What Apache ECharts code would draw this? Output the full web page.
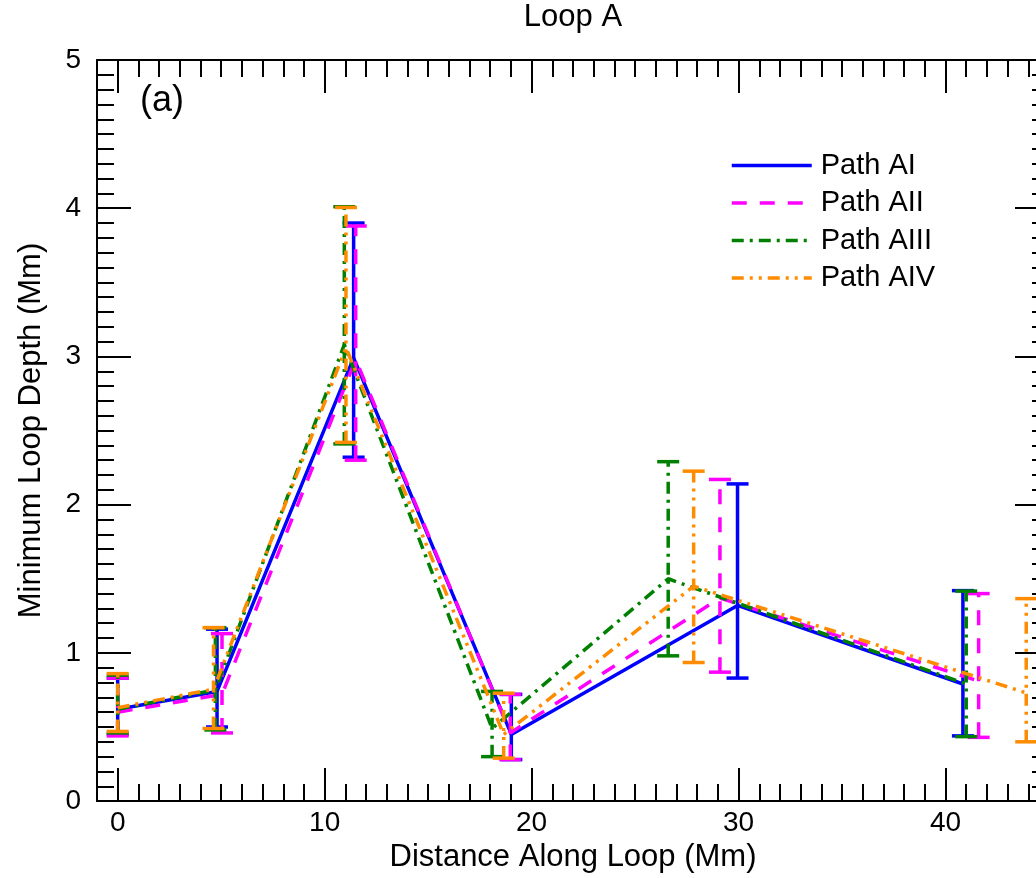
<!DOCTYPE html>
<html>
<head>
<meta charset="utf-8">
<title>Loop A</title>
<script src="https://cdn.jsdelivr.net/npm/echarts@6/dist/echarts.min.js"></script>
<style>
  html, body { margin: 0; padding: 0; overflow: hidden; background: #fff; }
  #chart { width: 1060px; height: 878px; }
</style>
</head>
<body>
<div id="chart"></div>
<script>
// Minimum loop depth along loop A for four traced paths, with error bars.
const seriesNames = ['Path AI', 'Path AII', 'Path AIII', 'Path AIV'];

// Path AI
const aiX  = [0, 4.80, 11.40, 19.02, 29.95, 40.84];
const aiY  = [0.62, 0.74, 2.99, 0.45, 1.32, 0.79];
const aiLo = [0.45, 0.50, 2.32, 0.28, 0.83, 0.44];
const aiHi = [0.83, 1.16, 3.90, 0.72, 2.14, 1.42];

// Path AII
const aiiX  = [0, 5.04, 11.50, 18.97, 29.10, 41.60];
const aiiY  = [0.60, 0.72, 2.98, 0.46, 1.37, 0.81];
const aiiLo = [0.44, 0.46, 2.30, 0.28, 0.87, 0.43];
const aiiHi = [0.83, 1.13, 3.88, 0.72, 2.17, 1.40];

// Path AIII
const aiiiX  = [0, 4.72, 10.95, 18.09, 26.60, 41.00];
const aiiiY  = [0.62, 0.75, 3.08, 0.49, 1.50, 0.79];
const aiiiLo = [0.46, 0.48, 2.41, 0.30, 0.98, 0.435];
const aiiiHi = [0.85, 1.17, 4.01, 0.74, 2.29, 1.417];

// Path AIV
const aivX  = [0, 4.63, 11.03, 18.65, 27.83, 43.90];
const aivY  = [0.63, 0.755, 3.06, 0.45, 1.45, 0.73];
const aivLo = [0.47, 0.49, 2.42, 0.29, 0.935, 0.40];
const aivHi = [0.86, 1.17, 4.005, 0.728, 2.226, 1.366];

// Axis ticks
const xMajorTicks = [0, 10, 20, 30, 40];
const yTickLabels = [0, 1, 2, 3, 4, 5];

const FONT = 'Liberation Sans';
const LW = 3.5;
const styles = [
  { color: '#0000ff', dash: 'solid' },
  { color: '#ff00ff', dash: [15, 13] },
  { color: '#008000', dash: [12, 6, 3, 6] },
  { color: '#ff8c00', dash: [12, 6, 3, 6, 3, 6] }
];

const paths = [
  { x: aiX, y: aiY, lo: aiLo, hi: aiHi },
  { x: aiiX, y: aiiY, lo: aiiLo, hi: aiiHi },
  { x: aiiiX, y: aiiiY, lo: aiiiLo, hi: aiiiHi },
  { x: aivX, y: aivY, lo: aivLo, hi: aivHi }
];

const series = [];
paths.forEach((p, k) => {
  const st = styles[k];
  series.push({
    name: seriesNames[k],
    type: 'line',
    data: p.y.map((v, i) => [p.x[i], v]),
    symbol: 'none',
    showSymbol: false,
    lineStyle: { color: st.color, width: LW, type: st.dash },
    itemStyle: { color: st.color },
    z: 2 + k
  });
  series.push({
    name: seriesNames[k],
    type: 'custom',
    data: p.x.map((v, i) => [v, p.lo[i], p.hi[i]]),
    encode: { x: 0, y: [1, 2] },
    z: 2 + k,
    renderItem: function (params, api) {
      const x = api.value(0);
      const lo = api.coord([x, api.value(1)]);
      const hi = api.coord([x, api.value(2)]);
      const half = 11;
      const dash = Array.isArray(st.dash) ? st.dash : null;
      return {
        type: 'group',
        children: [
          { type: 'line', shape: { x1: lo[0], y1: lo[1], x2: hi[0], y2: hi[1] },
            style: { stroke: st.color, lineWidth: LW, lineDash: dash } },
          { type: 'line', shape: { x1: lo[0] - half, y1: lo[1], x2: lo[0] + half, y2: lo[1] },
            style: { stroke: st.color, lineWidth: LW } },
          { type: 'line', shape: { x1: hi[0] - half, y1: hi[1], x2: hi[0] + half, y2: hi[1] },
            style: { stroke: st.color, lineWidth: LW } }
        ]
      };
    }
  });
});

const axisLineStyle = { color: '#000', width: 2 };
const tickStyle = { color: '#000', width: 2 };

function xAxisPair(pos, withLabels) {
  return [
    { // minor ticks every 1 Mm
      type: 'value', position: pos, min: -1, max: 45, interval: 1,
      axisLine: { show: true, onZero: false, lineStyle: axisLineStyle },
      axisTick: { show: true, inside: true, length: 17, lineStyle: tickStyle },
      axisLabel: { show: false },
      splitLine: { show: false }
    },
    { // major ticks every 10 Mm
      type: 'value', position: pos, min: -1, max: 45,
      name: withLabels ? 'Distance Along Loop (Mm)' : '',
      nameLocation: 'middle', nameGap: 36,
      nameTextStyle: { fontFamily: FONT, fontSize: 31, color: '#000' },
      axisLine: { show: false, onZero: false },
      axisTick: { show: true, inside: true, length: 33, lineStyle: tickStyle, customValues: xMajorTicks },
      axisLabel: withLabels
        ? { show: true, customValues: xMajorTicks, margin: 8, fontFamily: FONT, fontSize: 28, color: '#000' }
        : { show: false },
      splitLine: { show: false }
    }
  ];
}

const option = {
  animation: false,
  backgroundColor: '#fff',
  grid: { left: 97, top: 60, width: 952, height: 742, containLabel: false },
  xAxis: [].concat(xAxisPair('bottom', true), xAxisPair('top', false)),
  yAxis: [
    {
      type: 'value', position: 'left', min: 0, max: 5, interval: 1,
      name: 'Minimum Loop Depth (Mm)', nameLocation: 'middle', nameGap: 50,
      nameTextStyle: { fontFamily: FONT, fontSize: 31, color: '#000' },
      axisLine: { show: true, onZero: false, lineStyle: axisLineStyle },
      axisTick: { show: true, inside: true, length: 34, lineStyle: tickStyle },
      minorTick: { show: true, splitNumber: 10, length: 17, lineStyle: tickStyle },
      axisLabel: { margin: 16, fontFamily: FONT, fontSize: 28, color: '#000',
        formatter: v => (yTickLabels.indexOf(v) >= 0 ? String(v) : '') },
      splitLine: { show: false }, minorSplitLine: { show: false }
    },
    {
      type: 'value', position: 'right', min: 0, max: 5, interval: 1,
      axisLine: { show: true, onZero: false, lineStyle: axisLineStyle },
      axisTick: { show: true, inside: true, length: 34, lineStyle: tickStyle },
      minorTick: { show: true, splitNumber: 10, length: 17, lineStyle: tickStyle },
      axisLabel: { show: false },
      splitLine: { show: false }, minorSplitLine: { show: false }
    }
  ],
  legend: seriesNames.map((n, i) => ({
    data: [n],
    left: 725,
    top: 146 + i * 37.5,
    itemWidth: 80,
    itemHeight: 14,
    itemStyle: { opacity: 0 },
    lineStyle: { width: LW },
    textStyle: { fontFamily: FONT, fontSize: 29, color: '#000', padding: [0, 0, 0, 4] },
    selectedMode: false
  })),
  graphic: [
    { type: 'text', x: 573, y: 17,
      style: { text: 'Loop A', fontFamily: FONT, fontSize: 31, fill: '#000',
        textAlign: 'center', textVerticalAlign: 'middle' } },
    { type: 'text', x: 140, y: 101,
      style: { text: '(a)', fontFamily: FONT, fontSize: 36, fill: '#000',
        textAlign: 'left', textVerticalAlign: 'middle' } }
  ],
  series: series
};

const chart = echarts.init(document.getElementById('chart'), null, { renderer: 'canvas' });
chart.setOption(option);
</script>
</body>
</html>
